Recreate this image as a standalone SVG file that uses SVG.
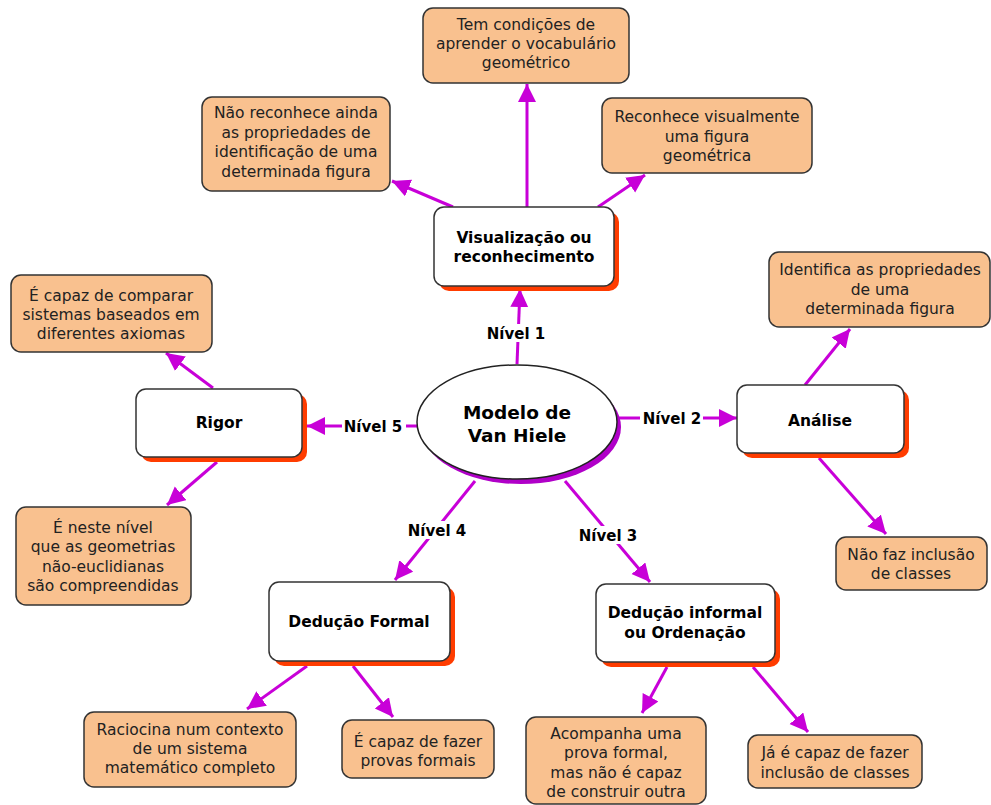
<svg xmlns="http://www.w3.org/2000/svg" width="991" height="805" viewBox="0 0 991 805">
<style>
.leaf{fill:#F9C18F;stroke:#333;stroke-width:1.5}
.node{fill:#fff;stroke:#333;stroke-width:1.5}
.shadow{fill:#FF3C00}
.t{font-family:"DejaVu Sans",Verdana,sans-serif;font-size:15.5px;fill:#222;text-anchor:middle}
.b{font-family:"DejaVu Sans",Verdana,sans-serif;font-size:15.5px;font-weight:bold;fill:#000;text-anchor:middle}
.lab{font-family:"DejaVu Sans",Verdana,sans-serif;font-size:15px;font-weight:bold;fill:#000;text-anchor:middle}
.c{stroke:#C800D8;stroke-width:3;fill:none;marker-end:url(#ah)}
</style>
<defs>
<marker id="ah" markerUnits="userSpaceOnUse" markerWidth="22" markerHeight="22" refX="18" refY="9" orient="auto">
<path d="M0,0 L18,9 L0,18 z" fill="#C800D8"/>
</marker>
</defs>
<rect width="991" height="805" fill="#fff"/>

<g id="connectors">
<line class="c" x1="527" y1="207" x2="527" y2="84"/>
<line class="c" x1="453" y1="207" x2="392" y2="181"/>
<line class="c" x1="598" y1="207" x2="645" y2="175"/>
<line class="c" x1="517" y1="364" x2="520" y2="289"/>
<line class="c" x1="617" y1="418" x2="737" y2="418"/>
<line class="c" x1="805" y1="385" x2="850" y2="329"/>
<line class="c" x1="819" y1="458" x2="886" y2="534"/>
<line class="c" x1="418" y1="426" x2="307" y2="426"/>
<line class="c" x1="213" y1="388" x2="166" y2="353"/>
<line class="c" x1="217" y1="462" x2="167" y2="505"/>
<line class="c" x1="475" y1="481" x2="395" y2="580"/>
<line class="c" x1="565" y1="481" x2="650" y2="582"/>
<line class="c" x1="307" y1="666" x2="247" y2="709"/>
<line class="c" x1="353" y1="666" x2="393" y2="717"/>
<line class="c" x1="667" y1="667" x2="642" y2="713"/>
<line class="c" x1="753" y1="667" x2="808" y2="732"/>
<g id="labels">
<rect x="486" y="324" width="62" height="18" fill="#fff"/>
<text class="lab" x="516" y="339">Nível 1</text>
<rect x="640" y="409" width="63" height="18" fill="#fff"/>
<text class="lab" x="672" y="424">Nível 2</text>
<rect x="576" y="526" width="64" height="18" fill="#fff"/>
<text class="lab" x="608" y="541">Nível 3</text>
<rect x="406" y="521" width="63" height="18" fill="#fff"/>
<text class="lab" x="437" y="536">Nível 4</text>
<rect x="342" y="417" width="64" height="18" fill="#fff"/>
<text class="lab" x="373" y="432">Nível 5</text>
</g>
</g>

<g id="center">
<ellipse cx="521" cy="427" rx="100" ry="57" fill="#B000C8"/>
<ellipse cx="517" cy="422" rx="100" ry="57" fill="#fff" stroke="#222" stroke-width="1.5"/>
<text class="b" style="font-size:18.5px" x="517" y="419">Modelo de</text>
<text class="b" style="font-size:18.5px" x="517" y="442">Van Hiele</text>
</g>

<g id="n-visualizacao">
<rect class="shadow" x="439" y="212" width="180" height="79" rx="10"/>
<rect class="node" x="434" y="207" width="180" height="79" rx="10"/>
<text class="b" x="524" y="243">Visualização ou</text>
<text class="b" x="524" y="262">reconhecimento</text>
</g>
<g id="n-analise">
<rect class="shadow" x="742" y="390" width="167" height="68" rx="10"/>
<rect class="node" x="737" y="385" width="167" height="68" rx="10"/>
<text class="b" x="820" y="426">Análise</text>
</g>
<g id="n-rigor">
<rect class="shadow" x="141" y="394" width="166" height="68" rx="10"/>
<rect class="node" x="136" y="389" width="166" height="68" rx="10"/>
<text class="b" x="219" y="428">Rigor</text>
</g>
<g id="n-deducao-formal">
<rect class="shadow" x="274" y="587" width="181" height="79" rx="10"/>
<rect class="node" x="269" y="582" width="181" height="79" rx="10"/>
<text class="b" x="359" y="627">Dedução Formal</text>
</g>
<g id="n-deducao-informal">
<rect class="shadow" x="601" y="589" width="179" height="78" rx="10"/>
<rect class="node" x="596" y="584" width="179" height="78" rx="10"/>
<text class="b" x="685" y="618">Dedução informal</text>
<text class="b" x="685" y="638">ou Ordenação</text>
</g>

<g id="l-tem">
<rect class="leaf" x="423" y="8" width="206" height="75" rx="10"/>
<text class="t" x="526" y="30">Tem condições de</text>
<text class="t" x="526" y="49">aprender o vocabulário</text>
<text class="t" x="526" y="68">geométrico</text>
</g>
<g id="l-nao-reconhece">
<rect class="leaf" x="202" y="97" width="188" height="94" rx="10"/>
<text class="t" x="296" y="118">Não reconhece ainda</text>
<text class="t" x="296" y="138">as propriedades de</text>
<text class="t" x="296" y="157">identificação de uma</text>
<text class="t" x="296" y="177">determinada figura</text>
</g>
<g id="l-reconhece">
<rect class="leaf" x="602" y="98" width="210" height="75" rx="10"/>
<text class="t" x="707" y="122">Reconhece visualmente</text>
<text class="t" x="707" y="142">uma figura</text>
<text class="t" x="707" y="161">geométrica</text>
</g>
<g id="l-identifica">
<rect class="leaf" x="769" y="252" width="221" height="75" rx="10"/>
<text class="t" x="880" y="275">Identifica as propriedades</text>
<text class="t" x="880" y="295">de uma</text>
<text class="t" x="880" y="314">determinada figura</text>
</g>
<g id="l-nao-faz">
<rect class="leaf" x="836" y="537" width="151" height="53" rx="10"/>
<text class="t" x="911" y="560">Não faz inclusão</text>
<text class="t" x="911" y="579">de classes</text>
</g>
<g id="l-comparar">
<rect class="leaf" x="11" y="275" width="201" height="77" rx="10"/>
<text class="t" x="111" y="301">É capaz de comparar</text>
<text class="t" x="111" y="320">sistemas baseados em</text>
<text class="t" x="111" y="339">diferentes axiomas</text>
</g>
<g id="l-neste-nivel">
<rect class="leaf" x="16" y="507" width="175" height="98" rx="10"/>
<text class="t" x="103" y="533">É neste nível</text>
<text class="t" x="103" y="552">que as geometrias</text>
<text class="t" x="103" y="572">não-euclidianas</text>
<text class="t" x="103" y="591">são compreendidas</text>
</g>
<g id="l-raciocina">
<rect class="leaf" x="84" y="712" width="212" height="75" rx="10"/>
<text class="t" x="190" y="735">Raciocina num contexto</text>
<text class="t" x="190" y="754">de um sistema</text>
<text class="t" x="190" y="773">matemático completo</text>
</g>
<g id="l-provas">
<rect class="leaf" x="342" y="720" width="152" height="58" rx="10"/>
<text class="t" x="418" y="747">É capaz de fazer</text>
<text class="t" x="418" y="766">provas formais</text>
</g>
<g id="l-acompanha">
<rect class="leaf" x="526" y="717" width="180" height="87" rx="10"/>
<text class="t" x="616" y="739">Acompanha uma</text>
<text class="t" x="616" y="758">prova formal,</text>
<text class="t" x="616" y="778">mas não é capaz</text>
<text class="t" x="616" y="797">de construir outra</text>
</g>
<g id="l-ja-capaz">
<rect class="leaf" x="748" y="735" width="174" height="53" rx="10"/>
<text class="t" x="835" y="758">Já é capaz de fazer</text>
<text class="t" x="835" y="778">inclusão de classes</text>
</g>
</svg>
